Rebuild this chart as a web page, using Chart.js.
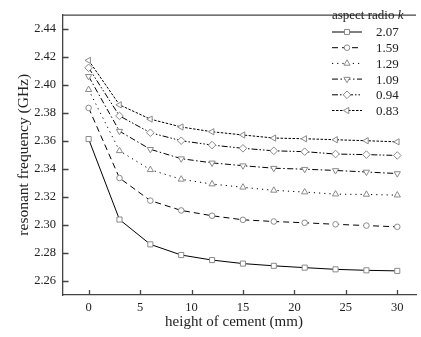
<!DOCTYPE html>
<html>
<head>
<meta charset="utf-8">
<script src="https://cdn.jsdelivr.net/npm/chart.js@4.4.0/dist/chart.umd.min.js"></script>
<style>
  html, body { margin: 0; padding: 0; background: #fff; overflow: hidden; }
</style>
</head>
<body>
<canvas id="freqChart" width="421" height="337"></canvas>
<script>
const heights = [0, 3, 6, 9, 12, 15, 18, 21, 24, 27, 30];
const ratios = ["2.07", "1.59", "1.29", "1.09", "0.94", "0.83"];
const freq207 = [2.3612, 2.3038, 2.2861, 2.2785, 2.2749, 2.2724, 2.2708, 2.2695, 2.2683, 2.2676, 2.2672];
const freq159 = [2.3834, 2.3334, 2.3173, 2.3103, 2.3065, 2.3036, 2.3024, 2.3015, 2.3004, 2.2995, 2.2986];
const freq129 = [2.3964, 2.3528, 2.3393, 2.3325, 2.3291, 2.3268, 2.3246, 2.3234, 2.3219, 2.3217, 2.3212];
const freq109 = [2.4059, 2.3668, 2.3539, 2.3472, 2.3442, 2.3422, 2.3404, 2.3397, 2.3388, 2.3377, 2.3366];
const freq094 = [2.4120, 2.3777, 2.3657, 2.3600, 2.3569, 2.3546, 2.3528, 2.3522, 2.3505, 2.3501, 2.3495];
const freq083 = [2.4173, 2.3856, 2.3754, 2.3698, 2.3664, 2.3641, 2.3619, 2.3614, 2.3607, 2.3600, 2.3592];
const xTicks = [0, 5, 10, 15, 20, 25, 30];
const yTicks = [2.26, 2.28, 2.30, 2.32, 2.34, 2.36, 2.38, 2.40, 2.42, 2.44];

const serif = "'Liberation Serif', 'Times New Roman', serif";
const textColor = "#222";
const axisColor = "#444";
const markerColor = "#8a8a8a";

const seriesValues = [freq207, freq159, freq129, freq109, freq094, freq083];
const styles = [
  { pointStyle: "rect", rotation: 0, radius: 3.6, dash: [] },
  { pointStyle: "circle", rotation: 0, radius: 2.8, dash: [6, 4] },
  { pointStyle: "triangle", rotation: 0, radius: 3.6, dash: [1.2, 4] },
  { pointStyle: "triangle", rotation: 180, radius: 3.6, dash: [6, 2.5, 1.5, 2.5] },
  { pointStyle: "rectRot", rotation: 0, radius: 3.8, dash: [6, 2, 1.5, 2, 1.5, 2] },
  { pointStyle: "triangle", rotation: -90, radius: 3.6, dash: [2.5, 1.5] },
];

const datasets = ratios.map((r, i) => ({
  label: r,
  data: heights.map((h, j) => ({ x: h, y: seriesValues[i][j] })),
  borderColor: "#000",
  borderWidth: 1,
  borderDash: styles[i].dash,
  tension: 0,
  pointStyle: styles[i].pointStyle,
  rotation: styles[i].rotation,
  pointRadius: styles[i].radius,
  pointBorderColor: markerColor,
  pointBackgroundColor: "#fff",
  pointBorderWidth: 1,
}));

// inward ticks, top frame line, axis title and legend
const decorations = {
  id: "decorations",
  afterDraw(chart) {
    const ctx = chart.ctx;
    const area = chart.chartArea;
    const xs = chart.scales.x;
    const ys = chart.scales.y;
    ctx.save();
    ctx.strokeStyle = axisColor;
    ctx.lineWidth = 1.3;
    ctx.beginPath();
    ctx.moveTo(area.left, area.top + 0.6);
    ctx.lineTo(area.right, area.top + 0.6);
    xTicks.forEach(v => {
      const px = Math.round(xs.getPixelForValue(v)) + 0.5;
      ctx.moveTo(px, area.bottom);
      ctx.lineTo(px, area.bottom - 5);
    });
    yTicks.forEach(v => {
      const py = Math.round(ys.getPixelForValue(v)) + 0.5;
      ctx.moveTo(area.left, py);
      ctx.lineTo(area.left + 5.5, py);
    });
    ctx.stroke();

    ctx.fillStyle = textColor;
    ctx.font = "15px " + serif;
    ctx.textAlign = "center";
    ctx.textBaseline = "middle";
    ctx.fillText("height of cement (mm)", 234, 322);

    // legend
    ctx.textAlign = "left";
    ctx.font = "13px " + serif;
    const t1 = "aspect radio ";
    ctx.fillText(t1, 332, 16);
    const w1 = ctx.measureText(t1).width;
    ctx.font = "italic 13px " + serif;
    ctx.fillText("k", 332 + w1, 16);
    ctx.font = "13px " + serif;
    ratios.forEach((r, i) => {
      const y = 32 + i * 15.7;
      ctx.strokeStyle = "#000";
      ctx.lineWidth = 1;
      ctx.setLineDash(styles[i].dash);
      ctx.beginPath();
      ctx.moveTo(332, y);
      ctx.lineTo(362, y);
      ctx.stroke();
      ctx.setLineDash([]);
      ctx.strokeStyle = markerColor;
      ctx.fillStyle = "#fff";
      Chart.helpers.drawPoint(ctx, {
        pointStyle: styles[i].pointStyle,
        rotation: styles[i].rotation,
        radius: styles[i].radius,
        borderWidth: 1,
      }, 347, y);
      ctx.fillStyle = textColor;
      ctx.fillText(r, 376, y + 1);
    });
    ctx.restore();
  },
};

const ctx = document.getElementById("freqChart").getContext("2d");
new Chart(ctx, {
  type: "line",
  data: { datasets: datasets },
  options: {
    responsive: false,
    animation: false,
    layout: { padding: { top: 0, right: 0, left: 0, bottom: 0 } },
    plugins: { legend: { display: false }, tooltip: { enabled: false } },
    scales: {
      x: {
        type: "linear",
        min: -2.49,
        max: 31.82,
        afterFit: s => { s.height = 42; },
        afterBuildTicks: s => { s.ticks = xTicks.map(v => ({ value: v })); },
        grid: { display: true, drawOnChartArea: false, drawTicks: false },
        border: { display: true, color: axisColor, width: 1.3 },
        ticks: {
          padding: 5,
          color: textColor,
          font: { family: serif, size: 12.5 },
          maxRotation: 0,
          callback: v => String(v),
        },
      },
      y: {
        type: "linear",
        min: 2.25,
        max: 2.45,
        afterFit: s => { s.width = 63; },
        afterBuildTicks: s => { s.ticks = yTicks.map(v => ({ value: v })); },
        grid: { display: true, drawOnChartArea: false, drawTicks: false },
        border: { display: true, color: axisColor, width: 1.3 },
        ticks: {
          padding: 7,
          color: textColor,
          font: { family: serif, size: 12.5 },
          callback: v => Number(v).toFixed(2),
        },
        title: {
          display: true,
          text: "resonant frequency (GHz)",
          color: textColor,
          font: { family: serif, size: 15.5 },
          padding: { top: 15, bottom: 0 },
        },
      },
    },
  },
  plugins: [decorations],
});
</script>
</body>
</html>
